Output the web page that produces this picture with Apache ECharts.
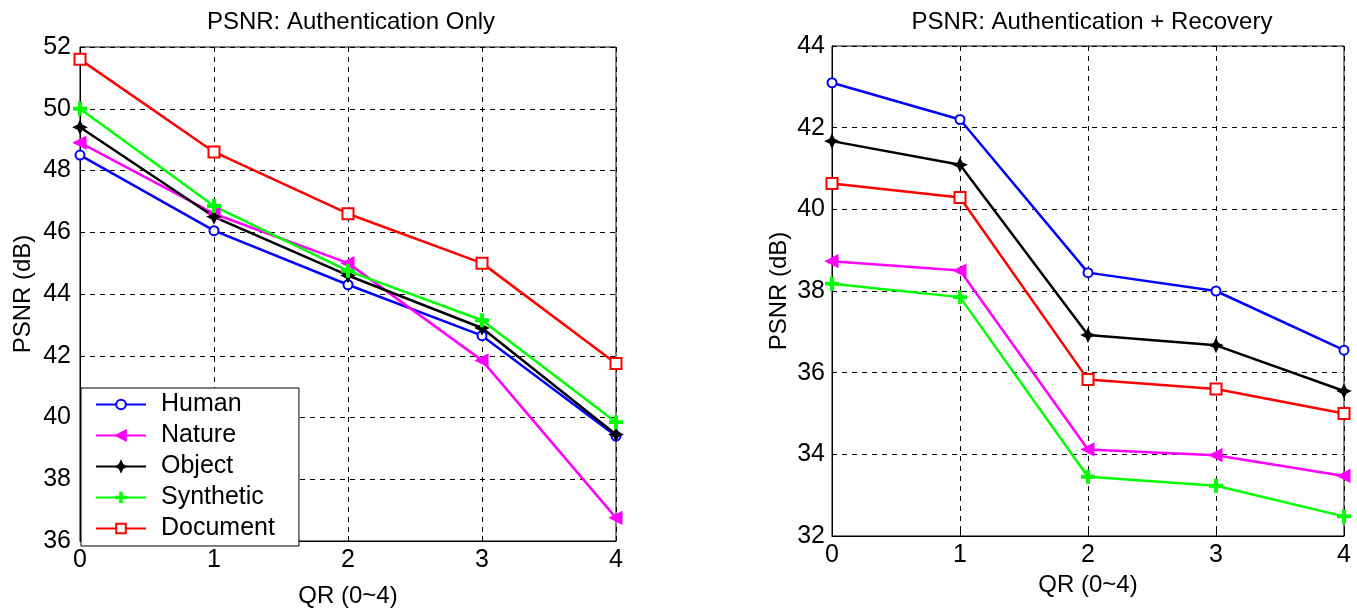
<!DOCTYPE html>
<html><head><meta charset="utf-8">
<script src="https://cdn.jsdelivr.net/npm/echarts@6/dist/echarts.min.js"></script>
<style>html,body{margin:0;padding:0;background:#fff}#c{width:1357px;height:613px}</style>
</head><body><div id="c"></div>
<script>
const qr = [0, 1, 2, 3, 4];
const seriesNames = ['Human', 'Nature', 'Object', 'Synthetic', 'Document'];
// Left: Authentication Only
const authHuman = [48.5, 46.05, 44.3, 42.65, 39.4];
const authNature = [48.9, 46.6, 45.0, 41.85, 36.75];
const authObject = [49.4, 46.5, 44.6, 42.9, 39.45];
const authSynthetic = [50.0, 46.85, 44.75, 43.15, 39.85];
const authDocument = [51.6, 48.6, 46.6, 45.0, 41.75];
// Right: Authentication + Recovery
const recHuman = [43.1, 42.2, 38.45, 38.0, 36.55];
const recNature = [38.73, 38.5, 34.12, 33.98, 33.47];
const recObject = [41.67, 41.09, 36.92, 36.67, 35.55];
const recSynthetic = [38.18, 37.85, 33.45, 33.23, 32.48];
const recDocument = [40.63, 40.29, 35.83, 35.6, 35.0];

const colors = {Human:'#0000ff', Nature:'#ff00ff', Object:'#000000', Synthetic:'#00ff00', Document:'#ff0000'};
const symbols = {
  Human: {symbol:'emptyCircle', size:9, rotate:0},
  Nature: {symbol:'triangle', size:11, rotate:90},
  Object: {symbol:'path://M5,0L6.6,3.4L10,5L6.6,6.6L5,10L3.4,6.6L0,5L3.4,3.4Z', size:11, rotate:0},
  Synthetic: {symbol:'path://M4.2,0H5.8V4.2H10V5.8H5.8V10H4.2V5.8H0V4.2H4.2Z', size:12, rotate:0},
  Document: {symbol:'emptyRect', size:11, rotate:0}
};
const leftData = {Human:authHuman, Nature:authNature, Object:authObject, Synthetic:authSynthetic, Document:authDocument};
const rightData = {Human:recHuman, Nature:recNature, Object:recObject, Synthetic:recSynthetic, Document:recDocument};

const font = 'Liberation Sans, Arial, sans-serif';
function mkSeries(dataMap, idx) {
  return seriesNames.map(n => ({
    name: n, type: 'line', xAxisIndex: idx, yAxisIndex: idx,
    data: qr.map((x, i) => [x, dataMap[n][i]]),
    symbol: symbols[n].symbol, symbolSize: symbols[n].size, symbolRotate: symbols[n].rotate,
    showAllSymbol: true,
    lineStyle: {color: colors[n], width: 2.5},
    itemStyle: {color: colors[n], borderColor: colors[n], borderWidth: 2},
    emphasis: {disabled: true},
    animation: false
  }));
}
function xAx(idx, gap) {
  return {
    type: 'value', gridIndex: idx, min: 0, max: 4, interval: 1,
    name: 'QR (0~4)', nameLocation: 'middle', nameGap: gap,
    nameTextStyle: {fontFamily: font, fontSize: 24, color: '#000'},
    axisLine: {show: true, lineStyle: {color: '#000', width: 1}},
    axisTick: {show: true, inside: true, length: 5, lineStyle: {color: '#000'}},
    axisLabel: {fontFamily: font, fontSize: 25, color: '#000', margin: 7},
    splitLine: {show: true, lineStyle: {color: '#000', type: [5, 5], width: 1}}
  };
}
function yAx(idx, min, max, gap, margin) {
  return {
    type: 'value', gridIndex: idx, min: min, max: max, interval: 2,
    name: 'PSNR (dB)', nameLocation: 'middle', nameGap: gap, nameRotate: 90,
    nameTextStyle: {fontFamily: font, fontSize: 24, color: '#000'},
    axisLine: {show: true, lineStyle: {color: '#000', width: 1}},
    axisTick: {show: true, inside: true, length: 5, lineStyle: {color: '#000'}},
    axisLabel: {fontFamily: font, fontSize: 25, color: '#000', margin: margin},
    splitLine: {show: true, lineStyle: {color: '#000', type: [5, 5], width: 1}}
  };
}
const chart = echarts.init(document.getElementById('c'), null, {renderer: 'canvas'});
chart.setOption({
  backgroundColor: '#fff',
  animation: false,
  title: [
    {text: 'PSNR: Authentication Only', left: 346, top: 5, textAlign: 'center',
     textStyle: {fontFamily: font, fontSize: 24, fontWeight: 'normal', color: '#000'}},
    {text: 'PSNR: Authentication + Recovery', left: 1087, top: 5, textAlign: 'center',
     textStyle: {fontFamily: font, fontSize: 24, fontWeight: 'normal', color: '#000'}}
  ],
  grid: [
    {left: 80, right: 741, top: 47, bottom: 70, show: true, borderColor: '#000', borderWidth: 1, backgroundColor: 'transparent'},
    {left: 832, right: 13, top: 46, bottom: 77, show: true, borderColor: '#000', borderWidth: 1, backgroundColor: 'transparent'}
  ],
  xAxis: [xAx(0, 43), xAx(1, 27)],
  yAxis: [yAx(0, 36, 52, 45, 9), yAx(1, 32, 44, 41, 7)],
  legend: {
    data: seriesNames, orient: 'vertical', left: 81, top: 388,
    itemWidth: 50, itemHeight: 12, itemGap: 6,
    padding: [4, 24, 5, 14],
    backgroundColor: '#fff', borderColor: '#000', borderWidth: 1,
    textStyle: {fontFamily: font, fontSize: 25, color: '#000', padding: [0, 0, 0, 10]},
    selectedMode: false, z: 10
  },
  series: [...mkSeries(leftData, 0), ...mkSeries(rightData, 1)]
});
</script></body></html>
